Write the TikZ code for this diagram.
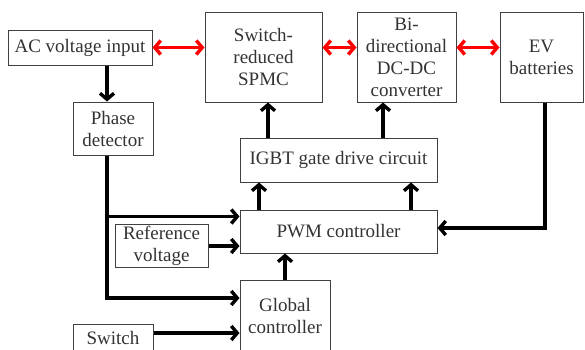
\documentclass[tikz,border=0pt]{standalone}
\usepackage{fontspec}
\setmainfont{Liberation Serif}
\usetikzlibrary{arrows.meta, positioning}

\tikzset{
  blockbox/.style={draw=black!75, line width=1pt, fill=white, align=center,
    text=black!80, font=\fontsize{19}{22}\selectfont, inner sep=2pt},
  sigline/.style={line width=3.4pt, -{Straight Barb[length=6pt, width=14pt]}},
  powline/.style={line width=3.4pt, red, {Straight Barb[length=6pt, width=14pt]}-{Straight Barb[length=6pt, width=14pt]}}
}

\begin{document}
\begin{tikzpicture}[x=1pt, y=-1pt]

\useasboundingbox (0,0) rectangle (585,349);
\clip (0,0) rectangle (585,349);

\node[blockbox, minimum width=144pt, minimum height=35pt] (acin) at (80,47.5) {AC voltage input};
\node[blockbox, minimum width=117pt, minimum height=90pt] (spmc) at (263.5,57) {Switch-\\reduced\\SPMC};
\node[blockbox, minimum width=99pt, minimum height=90pt] (bidir) at (406.5,57) {Bi-\\directional\\DC-DC\\converter};
\node[blockbox, minimum width=83pt, minimum height=90pt] (evbat) at (541.5,57) {EV\\batteries};

\node[blockbox, minimum width=80pt, minimum height=53pt] (phase) at (113,128.5) {Phase\\detector};
\node[blockbox, minimum width=197pt, minimum height=44pt] (igbt) at (338.5,160) {IGBT gate drive circuit};
\node[blockbox, minimum width=197pt, minimum height=43pt] (pwm) at (338.5,231.5) {PWM controller};
\node[blockbox, minimum width=93pt, minimum height=41pt] (refv) at (161.5,246) {Reference\\voltage};
\node[blockbox, minimum width=90pt, minimum height=72pt] (global) at (285,316) {Global\\controller};
\node[blockbox, minimum width=80pt, minimum height=28pt] (switch) at (113,338) {Switch};

% power path
\draw[powline] (acin.east) -- (acin.east -| spmc.west);
\draw[powline] (spmc.east |- acin.east) -- (bidir.west |- acin.east);
\draw[powline] (bidir.east |- acin.east) -- (evbat.west |- acin.east);

% signals
\coordinate (tap) at (107,0);
\draw[sigline] (acin.south -| tap) -- (phase.north -| tap);
\draw[sigline] (phase.south -| tap) |- ([yshift=18pt]global.west);
\draw[sigline] ([yshift=15pt]pwm.west -| tap) -- ([yshift=15pt]pwm.west);
\draw[sigline] (refv.east) -- (refv.east -| pwm.west);
\draw[sigline] ([yshift=5pt]switch.east) -- ([yshift=5pt]switch.east -| global.west);
\draw[sigline] (global.north) -- (global.north |- pwm.south);
\draw[sigline] ([xshift=-79.5pt]pwm.north) -- ([xshift=-79.5pt]igbt.south);
\draw[sigline] ([xshift=72.5pt]pwm.north) -- ([xshift=72.5pt]igbt.south);
\draw[sigline] ([xshift=4.5pt]spmc.south |- igbt.north) -- ([xshift=4.5pt]spmc.south);
\draw[sigline] ([xshift=-23.5pt]bidir.south |- igbt.north) -- ([xshift=-23.5pt]bidir.south);
\draw[sigline] ([xshift=3.5pt]evbat.south) |- ([yshift=3.5pt]pwm.east);

\end{tikzpicture}
\end{document}
